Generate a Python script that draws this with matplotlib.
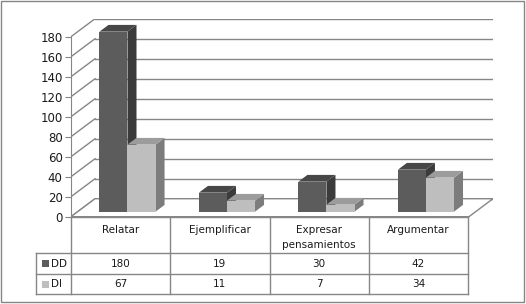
import matplotlib
matplotlib.use("Agg")
import matplotlib.pyplot as plt
from matplotlib.patches import Polygon, Rectangle

# data
categories = ["Relatar", "Ejemplificar", "Expresar\npensamientos", "Argumentar"]
series_names = ["DD", "DI"]
dd_values = [180, 19, 30, 42]
di_values = [67, 11, 7, 34]
y_ticks = [0, 20, 40, 60, 80, 100, 120, 140, 160, 180]

W, H = 526, 304
GRID = "#868686"
TXT = "#1a1a1a"
colors = {
    "DD": ("#5c5c5c", "#474747", "#3b3b3b"),  # front, top, side
    "DI": ("#bebebe", "#9c9c9c", "#7c7c7c"),
}

fig = plt.figure(figsize=(W / 100, H / 100), dpi=100)
plt.rcParams["font.family"] = "DejaVu Sans"

# main 3d-ish plot area, pixel anchors
x0_px, x1_px = 71, 493
y0_px, ytop_px = 216.7, 18.7
cat_px = 99.25
dxd = 24 / cat_px        # depth offset in category units
dyd = 18.0               # depth offset in value units
ax = fig.add_axes([x0_px / W, 1 - y0_px / H, (x1_px - x0_px) / W, (y0_px - ytop_px) / H])
ax.set_xlim(0, len(categories) + dxd)
ax.set_ylim(0, y0_px - ytop_px)
ax.patch.set_visible(False)
for s in ["top", "right", "bottom"]:
    ax.spines[s].set_visible(False)
ax.spines["left"].set_bounds(0, y_ticks[-1])
ax.spines["left"].set_color(GRID)
ax.set_xticks([])
ax.set_yticks(y_ticks)
ax.tick_params(axis="y", length=4, color=GRID, labelsize=8.5, labelcolor=TXT, pad=2)

n = len(categories)
# floor
ax.add_patch(Polygon([(0, 0), (n, 0), (n + dxd, dyd), (dxd, dyd)], closed=True,
                     facecolor="white", edgecolor=GRID, lw=1, zorder=1))
# back wall gridlines + left wall diagonals
for v in y_ticks:
    ax.plot([dxd, n + dxd], [v + dyd, v + dyd], color=GRID, lw=1, zorder=0.5)
    ax.plot([0, dxd], [v, v + dyd], color=GRID, lw=1, zorder=0.5)

# bars
bw = 0.282
front = 0.28
depth = 0.375
ddx, ddy = depth * dxd, depth * dyd
base = front * dyd
z = 2
for i in range(n):
    for k, (name, vals) in enumerate(zip(series_names, [dd_values, di_values])):
        fc, tc, sc = colors[name]
        x = i + 0.5 - bw + k * bw + front * dxd
        v = vals[i]
        ax.add_patch(Polygon([(x + bw, base), (x + bw + ddx, base + ddy),
                              (x + bw + ddx, base + v + ddy), (x + bw, base + v)],
                             closed=True, facecolor=sc, edgecolor="none", zorder=z))
        ax.add_patch(Polygon([(x, base + v), (x + bw, base + v),
                              (x + bw + ddx, base + v + ddy), (x + ddx, base + v + ddy)],
                             closed=True, facecolor=tc, edgecolor="none", zorder=z))
        ax.bar(x, v, width=bw, bottom=base, align="edge", color=fc, zorder=z + 0.5)
        z += 1

# data table below, in pixel coordinates
tx = fig.add_axes([0, 0, 1, 1])
tx.set_xlim(0, W)
tx.set_ylim(H, 0)
tx.axis("off")
tx.patch.set_visible(False)
rows_y = [216.7, 253, 274.3, 294.3]
col_x = [x0_px + cat_px * i for i in range(n + 1)]
left_x = 36
lk = dict(color=GRID, lw=1)
tx.plot([col_x[0], col_x[-1]], [rows_y[0]] * 2, **lk)
for yy in rows_y[1:]:
    tx.plot([left_x, col_x[-1]], [yy, yy], **lk)
for xx in col_x:
    tx.plot([xx, xx], [rows_y[0], rows_y[-1]], **lk)
tx.plot([left_x, left_x], [rows_y[1], rows_y[-1]], **lk)

for i, cat in enumerate(categories):
    cx = (col_x[i] + col_x[i + 1]) / 2
    tx.text(cx, 225, cat, ha="center", va="top", fontsize=7.5, color=TXT, linespacing=1.6)
    for r, vals in enumerate([dd_values, di_values]):
        yc = (rows_y[r + 1] + rows_y[r + 2]) / 2
        tx.text(cx, yc, str(vals[i]), ha="center", va="center", fontsize=7.5, color=TXT)

for r, name in enumerate(series_names):
    yc = (rows_y[r + 1] + rows_y[r + 2]) / 2
    tx.add_patch(Rectangle((42, yc - 3.5), 7, 7, facecolor=colors[name][0], edgecolor="none"))
    tx.text(51, yc, name, ha="left", va="center", fontsize=7.5, color=TXT)

# outer chart border
tx.add_patch(Rectangle((1, 1), 523, 301, facecolor="none", edgecolor=GRID, lw=1))

fig.savefig("out.png", dpi=100)
